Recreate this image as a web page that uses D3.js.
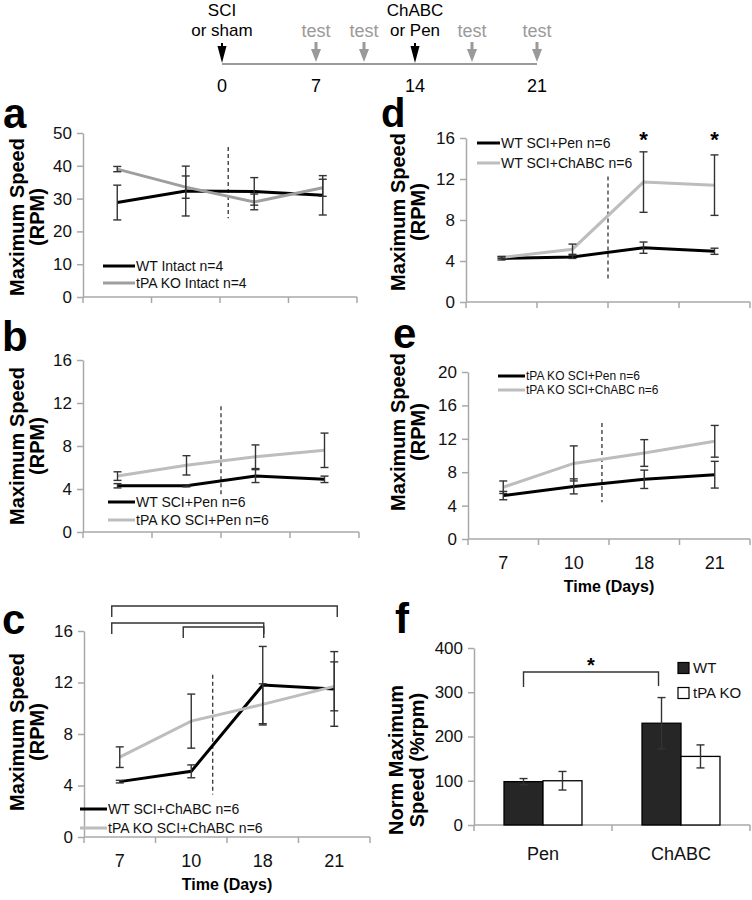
<!DOCTYPE html>
<html><head><meta charset="utf-8">
<script src="https://cdn.jsdelivr.net/npm/d3@7"></script>
<style>body{margin:0;background:#fff}svg{display:block}</style>
</head><body>
<svg id="chart" width="752" height="900"></svg>
<script>
// ---------- data ----------
const days = ["7", "10", "18", "21"];

// panel a
const aWT = [28.8, 32.3, 32.2, 31.0];
const aWTerr = [5.3, 7.6, 4.2, 6.0];
const aKO = [39.0, 33.5, 29.0, 33.3];
const aKOerr = [0.8, 3.4, 2.4, 2.6];
// panel b
const bWT = [4.3, 4.3, 5.2, 4.9];
const bWTerr = [0.2, 0.1, 0.6, 0.3];
const bKO = [5.2, 6.2, 7.0, 7.6];
const bKOerr = [0.4, 0.9, 1.1, 1.6];
// panel c
const cWT = [4.3, 5.1, 11.8, 11.5];
const cWTerr = [0.1, 0.5, 3.0, 2.9];
const cKO = [6.2, 9.0, 10.3, 11.7];
const cKOerr = [0.8, 2.1, 1.6, 1.9];
const cBrackets = [[0, 3], [0, 2], [1, 2]];
// panel d
const dPen = [4.25, 4.4, 5.3, 4.95];
const dPenErr = [0.15, 0.15, 0.55, 0.3];
const dCh = [4.35, 5.15, 11.7, 11.4];
const dChErr = [0.1, 0.5, 2.95, 2.95];
const dStars = [2, 3];
// panel e
const ePen = [5.2, 6.3, 7.15, 7.7];
const ePenErr = [0.5, 0.9, 1.1, 1.6];
const eCh = [6.2, 9.05, 10.3, 11.7];
const eChErr = [0.75, 2.1, 1.6, 1.9];
// panel f
const fCats = ["Pen", "ChABC"];
const fGroups = ["WT", "tPA KO"];
const fWT = [98, 230];
const fWTerr = [7, 58];
const fKO = [100, 155];
const fKOerr = [21, 26];
// timeline
const tlTicks = [0, 7, 14, 21];
const tlEvents = [
  {day: 0, kind: "treat", text: ["SCI", "or sham"]},
  {day: 7, kind: "test", text: ["test"]},
  {day: 10, kind: "test", text: ["test"]},
  {day: 14, kind: "treat", text: ["ChABC", "or Pen"]},
  {day: 18, kind: "test", text: ["test"]},
  {day: 21, kind: "test", text: ["test"]}
];

// ---------- setup ----------
const FONT = '"Liberation Sans", Arial, Helvetica, sans-serif';
const AX = "#a8a8a8";
const BLACK = "#000";
const svg = d3.select("#chart").attr("font-family", FONT);

// ---------- timeline ----------
(function () {
  const x = d3.scaleLinear().domain([0, 7, 10, 14, 18, 21]).range([222, 316, 364, 415, 472, 537]);
  const g = svg.append("g");
  g.append("line").attr("x1", x(0)).attr("x2", x(21)).attr("y1", 64).attr("y2", 64)
    .attr("stroke", "#9a9a9a").attr("stroke-width", 2);
  tlEvents.forEach(e => {
    const cx = x(e.day);
    const col = e.kind === "treat" ? "#000" : "#9a9a9a";
    if (e.kind === "test") {
      g.append("rect").attr("x", cx - 1.5).attr("y", 42).attr("width", 3).attr("height", 8).attr("fill", col);
      g.append("path").attr("d", `M${cx - 5},49 L${cx + 5},49 L${cx},62 Z`).attr("fill", col);
      g.append("text").attr("x", cx).attr("y", 37).attr("text-anchor", "middle")
        .attr("font-size", 18).attr("fill", "#9a9a9a").text(e.text[0]);
    } else {
      g.append("rect").attr("x", cx - 1).attr("y", 43).attr("width", 2).attr("height", 6).attr("fill", col);
      g.append("path").attr("d", `M${cx - 4.5},46 L${cx + 4.5},46 L${cx},63 Z`).attr("fill", col);
      g.append("text").attr("x", cx).attr("y", 16).attr("text-anchor", "middle")
        .attr("font-size", 17).attr("fill", "#000").text(e.text[0]);
      g.append("text").attr("x", cx).attr("y", 36).attr("text-anchor", "middle")
        .attr("font-size", 17).attr("fill", "#000").text(e.text[1]);
    }
  });
  tlTicks.forEach(d => {
    g.append("text").attr("x", x(d)).attr("y", 92).attr("text-anchor", "middle")
      .attr("font-size", 18).attr("fill", "#000").text(d);
  });
})();

// ---------- helpers ----------
function panelLabel(t, x, y, size) {
  svg.append("text").attr("x", x).attr("y", y).attr("font-size", size || 42).attr("font-weight", "bold").text(t);
}
function yTitle(lines, xs, cy, size) {
  lines.forEach((l, i) => {
    svg.append("text").attr("transform", `translate(${xs[i]},${cy}) rotate(-90)`)
      .attr("text-anchor", "middle").attr("font-size", size || 20).attr("font-weight", "bold").text(l);
  });
}
function errBar(g, x, yTop, yBot, col) {
  const w = 4;
  g.append("line").attr("x1", x).attr("x2", x).attr("y1", yTop).attr("y2", yBot).attr("stroke", col).attr("stroke-width", 1.4);
  g.append("line").attr("x1", x - w).attr("x2", x + w).attr("y1", yTop).attr("y2", yTop).attr("stroke", col).attr("stroke-width", 1.4);
  g.append("line").attr("x1", x - w).attr("x2", x + w).attr("y1", yBot).attr("y2", yBot).attr("stroke", col).attr("stroke-width", 1.4);
}

function linePanel(o) {
  const g = svg.append("g");
  const xb = d3.scaleBand().domain(days).range([o.x0, o.x1]);
  const xc = i => xb(days[i]) + xb.bandwidth() / 2;
  const xi = d3.scaleLinear().domain([-0.5, days.length - 0.5]).range([o.x0, o.x1]);
  const y = d3.scaleLinear().domain([0, o.max]).range([o.yb, o.yt]);

  const gy = g.append("g").attr("transform", `translate(${o.x0},0)`)
    .call(d3.axisLeft(y).tickValues(d3.range(0, o.max + 0.001, o.step)).tickSize(6).tickSizeOuter(0).tickPadding(5));
  gy.select(".domain").attr("stroke", AX).attr("stroke-width", 1.5);
  gy.selectAll(".tick line").attr("stroke", AX).attr("stroke-width", 1.5);
  gy.selectAll(".tick text").attr("font-size", 17).attr("font-family", FONT).attr("fill", "#111");

  // x axis (Excel style, ticks between categories)
  g.append("line").attr("x1", o.x0).attr("x2", o.x1).attr("y1", y(0)).attr("y2", y(0)).attr("stroke", AX).attr("stroke-width", 1.5);
  d3.range(days.length + 1).forEach(i => {
    g.append("line").attr("x1", xi(i - 0.5)).attr("x2", xi(i - 0.5)).attr("y1", y(0)).attr("y2", y(0) + 6)
      .attr("stroke", AX).attr("stroke-width", 1.5);
  });
  if (o.xLabels) {
    days.forEach((d, i) => {
      g.append("text").attr("x", xc(i)).attr("y", y(0) + 30).attr("text-anchor", "middle")
        .attr("font-size", 18).attr("fill", "#111").text(d);
    });
    g.append("text").attr("x", (o.x0 + o.x1) / 2).attr("y", y(0) + 53).attr("text-anchor", "middle")
      .attr("font-size", 16).attr("font-weight", "bold").text("Time (Days)");
  }

  // dashed treatment marker
  g.append("line").attr("x1", xi(o.dash)).attr("x2", xi(o.dash)).attr("y1", y(o.dashY[0])).attr("y2", y(o.dashY[1]))
    .attr("stroke", "#333").attr("stroke-width", 1.3).attr("stroke-dasharray", "4,3");

  const line = d3.line().x((d, i) => xc(i)).y(d => y(d));
  o.series.forEach(s => {
    g.append("path").datum(s.v).attr("d", line).attr("fill", "none").attr("stroke", s.c).attr("stroke-width", 3);
  });
  o.series.forEach(s => {
    s.v.forEach((v, i) => errBar(g, xc(i), y(v + s.e[i]), y(v - s.e[i]), "#333"));
  });

  // legend
  o.series.forEach((s, i) => {
    const ly = o.leg.y + i * o.leg.dy;
    g.append("line").attr("x1", o.leg.x).attr("x2", o.leg.x + o.leg.len).attr("y1", ly).attr("y2", ly)
      .attr("stroke", s.c).attr("stroke-width", 3);
    g.append("text").attr("x", o.leg.x + o.leg.len + 1).attr("y", ly).attr("dy", "0.35em")
      .attr("font-size", o.leg.size || 14).attr("fill", "#111").text(s.name);
  });
  return {g, xc, xi, y};
}

// ---------- panel a ----------
panelLabel("a", 3, 128);
yTitle(["Maximum Speed", "(RPM)"], [24, 44], 217);
linePanel({
  x0: 83, x1: 357, yt: 133, yb: 297, max: 50, step: 10,
  dash: 1.62, dashY: [45.7, 24],
  series: [
    {v: aWT, e: aWTerr, c: BLACK, name: "WT Intact n=4"},
    {v: aKO, e: aKOerr, c: "#9e9e9e", name: "tPA KO Intact n=4"}
  ],
  leg: {x: 103, y: 266, dy: 17, len: 32}
});

// ---------- panel b ----------
panelLabel("b", 2, 351);
yTitle(["Maximum Speed", "(RPM)"], [24, 44], 446);
linePanel({
  x0: 83, x1: 359, yt: 360, yb: 532, max: 16, step: 4,
  dash: 1.5, dashY: [11.7, 3.5],
  series: [
    {v: bWT, e: bWTerr, c: BLACK, name: "WT SCI+Pen n=6"},
    {v: bKO, e: bKOerr, c: "#bdbdbd", name: "tPA KO SCI+Pen n=6"}
  ],
  leg: {x: 108, y: 502, dy: 18, len: 27}
});

// ---------- panel c ----------
panelLabel("c", 2, 634);
yTitle(["Maximum Speed", "(RPM)"], [24, 44], 732);
const pc = linePanel({
  x0: 84, x1: 370, yt: 631, yb: 837, max: 16, step: 4,
  dash: 1.3, dashY: [12.6, 3.3], xLabels: true,
  series: [
    {v: cWT, e: cWTerr, c: BLACK, name: "WT SCI+ChABC n=6"},
    {v: cKO, e: cKOerr, c: "#bdbdbd", name: "tPA KO SCI+ChABC n=6"}
  ],
  leg: {x: 80, y: 809, dy: 19, len: 27}
});
cBrackets.forEach((b, k) => {
  const by = [606, 623, 627][k];
  const x1 = pc.xc(b[0]) - 8, x2 = pc.xc(b[1]) + (k === 0 ? 3 : 1);
  pc.g.append("path").attr("d", `M${x1},${by + 11} V${by} H${x2} V${by + 11}`)
    .attr("fill", "none").attr("stroke", "#333").attr("stroke-width", 1.4);
});

// ---------- panel d ----------
panelLabel("d", 381, 127, 40);
yTitle(["Maximum Speed", "(RPM)"], [405, 425], 212);
const pd = linePanel({
  x0: 466, x1: 750, yt: 138, yb: 302, max: 16, step: 4,
  dash: 1.5, dashY: [12.25, 2.15],
  series: [
    {v: dPen, e: dPenErr, c: BLACK, name: "WT SCI+Pen n=6"},
    {v: dCh, e: dChErr, c: "#bdbdbd", name: "WT SCI+ChABC n=6"}
  ],
  leg: {x: 477, y: 143, dy: 20, len: 23}
});
dStars.forEach(i => {
  pd.g.append("text").attr("x", pd.xc(i)).attr("y", 147).attr("text-anchor", "middle")
    .attr("font-size", 22).attr("font-weight", "bold").text("*");
});

// ---------- panel e ----------
panelLabel("e", 393, 348);
yTitle(["Maximum Speed", "(RPM)"], [405, 425], 432);
linePanel({
  x0: 468, x1: 750, yt: 372, yb: 539, max: 20, step: 4,
  dash: 1.4, dashY: [13.9, 4.4], xLabels: true,
  series: [
    {v: ePen, e: ePenErr, c: BLACK, name: "tPA KO SCI+Pen n=6"},
    {v: eCh, e: eChErr, c: "#bdbdbd", name: "tPA KO SCI+ChABC n=6"}
  ],
  leg: {x: 498, y: 376, dy: 14, len: 27, size: 12}
});

// ---------- panel f ----------
panelLabel("f", 395, 633);
yTitle(["Norm Maximum", "Speed (%rpm)"], [403, 424], 760);
(function () {
  const g = svg.append("g");
  const x0 = d3.scaleBand().domain(fCats).range([474, 750]);
  const x1 = d3.scaleBand().domain(fGroups).range([0, x0.bandwidth()]).paddingOuter(0.77);
  const y = d3.scaleLinear().domain([0, 400]).range([825, 648]);
  const gy = g.append("g").attr("transform", "translate(474,0)")
    .call(d3.axisLeft(y).tickValues([0, 100, 200, 300, 400]).tickSize(6).tickSizeOuter(0).tickPadding(5));
  gy.select(".domain").attr("stroke", AX).attr("stroke-width", 1.5);
  gy.selectAll(".tick line").attr("stroke", AX).attr("stroke-width", 1.5);
  gy.selectAll(".tick text").attr("font-size", 17).attr("font-family", FONT).attr("fill", "#111");
  g.append("line").attr("x1", 474).attr("x2", 750).attr("y1", y(0)).attr("y2", y(0)).attr("stroke", AX).attr("stroke-width", 1.5);
  [474, x0("ChABC"), 750].forEach(px => {
    g.append("line").attr("x1", px).attr("x2", px).attr("y1", y(0)).attr("y2", y(0) + 6).attr("stroke", AX).attr("stroke-width", 1.5);
  });
  const series = [
    {key: "WT", v: fWT, e: fWTerr, fill: "#262626"},
    {key: "tPA KO", v: fKO, e: fKOerr, fill: "#fff"}
  ];
  series.forEach(s => {
    fCats.forEach((c, i) => {
      g.append("rect").attr("x", x0(c) + x1(s.key)).attr("y", y(s.v[i]))
        .attr("width", x1.bandwidth()).attr("height", y(0) - y(s.v[i]))
        .attr("fill", s.fill).attr("stroke", "#000").attr("stroke-width", 1.3);
    });
  });
  series.forEach(s => {
    fCats.forEach((c, i) => {
      const cx = x0(c) + x1(s.key) + x1.bandwidth() / 2;
      errBar(g, cx, y(s.v[i] + s.e[i]), y(s.v[i] - s.e[i]), "#333");
    });
  });
  fCats.forEach(c => {
    g.append("text").attr("x", x0(c) + x0.bandwidth() / 2).attr("y", 860).attr("text-anchor", "middle")
      .attr("font-size", 18).attr("fill", "#111").text(c);
  });
  // significance bracket between WT bars
  const bx1 = x0("Pen") + x1("WT") + x1.bandwidth() / 2;
  const bx2 = x0("ChABC") + x1("WT") + x1.bandwidth() / 2 - 3;
  g.append("path").attr("d", `M${bx1},687 V672 H${bx2} V686`).attr("fill", "none").attr("stroke", "#333").attr("stroke-width", 1.4);
  g.append("text").attr("x", (bx1 + bx2) / 2).attr("y", 672).attr("text-anchor", "middle")
    .attr("font-size", 20).attr("font-weight", "bold").text("*");
  // legend
  series.forEach((s, i) => {
    const ly = 668 + i * 25;
    g.append("rect").attr("x", 678).attr("y", ly - 5.5).attr("width", 11).attr("height", 11)
      .attr("fill", s.fill).attr("stroke", "#000").attr("stroke-width", 1.2);
    g.append("text").attr("x", 693).attr("y", ly).attr("dy", "0.35em").attr("font-size", 15).attr("fill", "#111").text(s.key);
  });
})();
</script>
</body></html>
